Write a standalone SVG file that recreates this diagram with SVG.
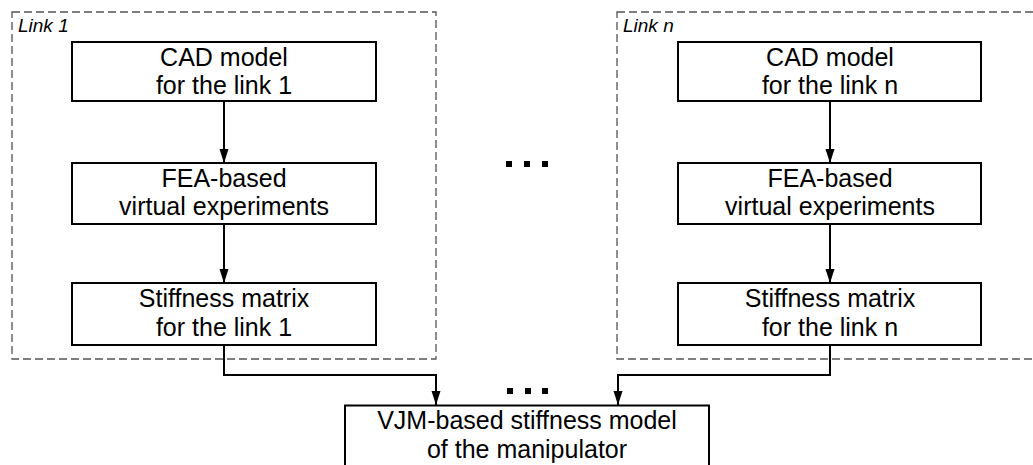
<svg xmlns="http://www.w3.org/2000/svg" width="1033" height="465" viewBox="0 0 1033 465">
<style>
.box{fill:#fff;stroke:#000;stroke-width:2}
.group{fill:none;stroke:#555;stroke-width:1.3;stroke-dasharray:8 4}
.t{font-family:"Liberation Sans",Arial,sans-serif;font-size:25px;fill:#000;text-anchor:middle}
.lbl{font-family:"Liberation Sans",Arial,sans-serif;font-size:19px;font-style:italic;fill:#000}
.conn{fill:none;stroke:#000;stroke-width:2}
</style>
<defs>
<marker id="arr" markerUnits="userSpaceOnUse" markerWidth="14" markerHeight="10" refX="14" refY="5" orient="auto">
<path d="M0,0.5 L14,5 L0,9.5 z" fill="#000"/>
</marker>
</defs>
<rect width="1033" height="465" fill="#fff"/>
<g id="group-link1">
<rect class="group" x="12" y="12" width="424" height="347"/>
<text class="lbl" x="18" y="32">Link 1</text>
</g>
<g id="group-linkn">
<rect class="group" x="617" y="12" width="430" height="347"/>
<text class="lbl" x="623" y="32">Link n</text>
</g>
<g id="connectors">
<line class="conn" x1="224" y1="101" x2="224" y2="163" marker-end="url(#arr)"/>
<line class="conn" x1="224" y1="224" x2="224" y2="283" marker-end="url(#arr)"/>
<line class="conn" x1="830" y1="101" x2="830" y2="163" marker-end="url(#arr)"/>
<line class="conn" x1="830" y1="224" x2="830" y2="283" marker-end="url(#arr)"/>
<path class="conn" d="M224,345 V375 H436 V405" marker-end="url(#arr)"/>
<path class="conn" d="M830,345 V375 H618 V405" marker-end="url(#arr)"/>
</g>
<g id="cad1">
<rect class="box" x="72" y="42" width="304" height="59"/>
<text class="t" x="224" y="66">CAD model</text>
<text class="t" x="224" y="94">for the link 1</text>
</g>
<g id="fea1">
<rect class="box" x="72" y="163" width="304" height="61"/>
<text class="t" x="224" y="187">FEA-based</text>
<text class="t" x="224" y="215">virtual experiments</text>
</g>
<g id="stiff1">
<rect class="box" x="72" y="283" width="304" height="62"/>
<text class="t" x="224" y="307">Stiffness matrix</text>
<text class="t" x="224" y="336">for the link 1</text>
</g>
<g id="cadn">
<rect class="box" x="678" y="42" width="303" height="59"/>
<text class="t" x="830" y="66">CAD model</text>
<text class="t" x="830" y="94">for the link n</text>
</g>
<g id="fean">
<rect class="box" x="678" y="163" width="303" height="61"/>
<text class="t" x="830" y="187">FEA-based</text>
<text class="t" x="830" y="215">virtual experiments</text>
</g>
<g id="stiffn">
<rect class="box" x="678" y="283" width="303" height="62"/>
<text class="t" x="830" y="307">Stiffness matrix</text>
<text class="t" x="830" y="336">for the link n</text>
</g>
<g id="vjm">
<rect class="box" x="345" y="405.5" width="364" height="80"/>
<text class="t" x="527" y="429">VJM-based stiffness model</text>
<text class="t" x="527" y="458">of the manipulator</text>
</g>
<g id="dots-top">
<rect x="506" y="161" width="6" height="6"/>
<rect x="524" y="161" width="6" height="6"/>
<rect x="542" y="161" width="6" height="6"/>
</g>
<g id="dots-bottom">
<rect x="507" y="388" width="6" height="6"/>
<rect x="525" y="388" width="6" height="6"/>
<rect x="542" y="388" width="6" height="6"/>
</g>
</svg>
